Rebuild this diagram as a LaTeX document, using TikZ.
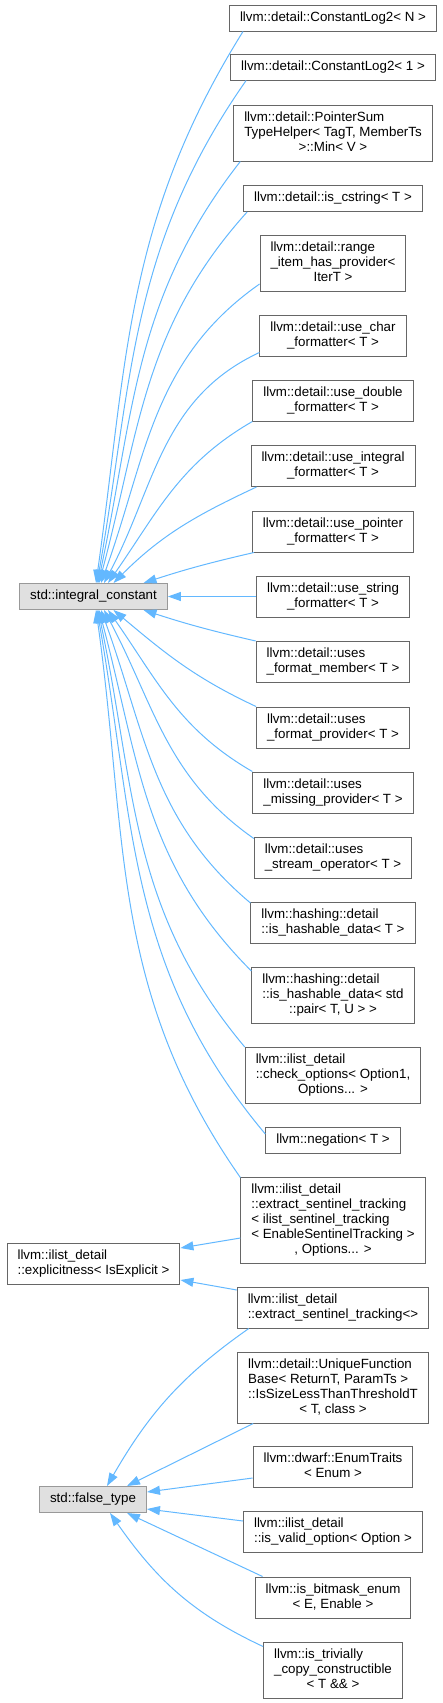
\documentclass[tikz,border=0pt]{standalone}
\usepackage{fontspec}
\setmainfont{Liberation Sans}
\usetikzlibrary{arrows.meta}
\definecolor{edgeblue}{HTML}{63B8FF}
\definecolor{clsborder}{HTML}{666666}
\definecolor{baseborder}{HTML}{999999}
\definecolor{basefill}{HTML}{E0E0E0}
\newcommand{\clsname}[1]{\begin{tabular}{@{}l@{}}#1\end{tabular}}
\newcommand{\lastln}[1]{\multicolumn{1}{@{}c@{}}{#1}}

\begin{document}
\begin{tikzpicture}[
 x=1pt,y=1pt,
 cls/.style={
  draw=clsborder,
  fill=white,
  line width=1pt,
  inner xsep=10.5pt,
  inner ysep=5.5pt,
  font=\fontsize{13.33}{15}\selectfont
 },
 base/.style={cls,draw=baseborder,fill=basefill},
 inh/.style={{Triangle[length=13pt,width=9pt]}-,draw=edgeblue,line width=1pt}
]
 \useasboundingbox (0,0) rectangle (442,-1703);

 % base classes
 \node[base] (ic)   at (93.5,-596.5) {\clsname{std::integral\_constant}};
 \node[cls]  (expl) at (93.5,-1264)  {\clsname{llvm::ilist\_detail\\::explicitness< IsExplicit >}};
 \node[base] (ft)   at (93,-1499.5)  {\clsname{std::false\_type}};

 % derived classes
 \node[cls] (cln)     at (333,-18)     {\clsname{llvm::detail::ConstantLog2< N >}};
 \node[cls] (cl1)     at (333,-67)     {\clsname{llvm::detail::ConstantLog2< 1 >}};
 \node[cls] (ps)      at (333,-133)    {\clsname{llvm::detail::PointerSum\\TypeHelper< TagT, MemberTs\\\lastln{>::Min< V >}}};
 \node[cls] (cstr)    at (333,-198.5)  {\clsname{llvm::detail::is\_cstring< T >}};
 \node[cls] (range)   at (333,-263.5)  {\clsname{llvm::detail::range\\\_item\_has\_provider<\\\lastln{IterT >}}};
 \node[cls] (uchar)   at (333,-335.5)  {\clsname{llvm::detail::use\_char\\\lastln{\_formatter< T >}}};
 \node[cls] (udouble) at (333,-400.5)  {\clsname{llvm::detail::use\_double\\\lastln{\_formatter< T >}}};
 \node[cls] (uint)    at (333,-466)    {\clsname{llvm::detail::use\_integral\\\lastln{\_formatter< T >}}};
 \node[cls] (uptr)    at (333,-531.5)  {\clsname{llvm::detail::use\_pointer\\\lastln{\_formatter< T >}}};
 \node[cls] (ustr)    at (333,-596.5)  {\clsname{llvm::detail::use\_string\\\lastln{\_formatter< T >}}};
 \node[cls] (fmem)    at (333,-662)    {\clsname{llvm::detail::uses\\\_format\_member< T >}};
 \node[cls] (fprov)   at (333,-727.5)  {\clsname{llvm::detail::uses\\\_format\_provider< T >}};
 \node[cls] (miss)    at (333,-792.5)  {\clsname{llvm::detail::uses\\\_missing\_provider< T >}};
 \node[cls] (stream)  at (333,-857.5)  {\clsname{llvm::detail::uses\\\_stream\_operator< T >}};
 \node[cls] (hasht)   at (333,-923)    {\clsname{llvm::hashing::detail\\::is\_hashable\_data< T >}};
 \node[cls] (hashp)   at (333,-995.5)  {\clsname{llvm::hashing::detail\\::is\_hashable\_data< std\\\lastln{::pair< T, U > >}}};
 \node[cls] (check)   at (333,-1075.5) {\clsname{llvm::ilist\_detail\\::check\_options< Option1,\\\lastln{Options... >}}};
 \node[cls] (neg)     at (333,-1140.5) {\clsname{llvm::negation< T >}};
 \node[cls] (extr)    at (333,-1220)   {\clsname{llvm::ilist\_detail\\::extract\_sentinel\_tracking\\< ilist\_sentinel\_tracking\\< EnableSentinelTracking >\\\lastln{, Options... >}}};
 \node[cls] (extr0)   at (333,-1307.5) {\clsname{llvm::ilist\_detail\\::extract\_sentinel\_tracking<>}};
 \node[cls] (unique)  at (333,-1387.5) {\clsname{llvm::detail::UniqueFunction\\Base< ReturnT, ParamTs >\\::IsSizeLessThanThresholdT\\\lastln{< T, class >}}};
 \node[cls] (enumt)   at (333,-1467)   {\clsname{llvm::dwarf::EnumTraits\\\lastln{< Enum >}}};
 \node[cls] (valid)   at (333,-1532)   {\clsname{llvm::ilist\_detail\\::is\_valid\_option< Option >}};
 \node[cls] (bitm)    at (333,-1597.5) {\clsname{llvm::is\_bitmask\_enum\\\lastln{< E, Enable >}}};
 \node[cls] (triv)    at (333,-1670)   {\clsname{llvm::is\_trivially\\\_copy\_constructible\\\lastln{< T \&\& >}}};

 % std::integral_constant, upper children
 \draw[inh] ([xshift=2.5pt]ic.north) to[out=82,in=238] ([xshift=14pt]cln.south west);
 \draw[inh] ([xshift=3.5pt]ic.north) to[out=80,in=235] ([xshift=16pt]cl1.south west);
 \draw[inh] ([xshift=4.5pt]ic.north) to[out=78,in=232] ([xshift=7pt]ps.south west);
 \draw[inh] ([xshift=5.5pt]ic.north) to[out=75,in=228] ([xshift=4pt]cstr.south west);
 \draw[inh] ([xshift=7.5pt]ic.north) to[out=70,in=215] ([yshift=8pt]range.south west);
 \draw[inh] ([xshift=10.5pt]ic.north) to[out=62,in=205] ([yshift=4pt]uchar.south west);
 \draw[inh] ([xshift=14.5pt]ic.north) to[out=55,in=210] (udouble.south west);
 \draw[inh] ([xshift=20pt]ic.north) to[out=45,in=205] ([xshift=6pt]uint.south west);
 \draw[inh] ([xshift=50pt]ic.north) to[out=18,in=193] ([xshift=2pt]uptr.south west);
 \draw[inh] (ic.east) -- (ustr.west);
 % std::integral_constant, lower children
 \draw[inh] ([xshift=50pt]ic.south) to[out=-18,in=167] (fmem.north west);
 \draw[inh] ([xshift=20pt]ic.south) to[out=-40,in=155] (fprov.north west);
 \draw[inh] ([xshift=14.5pt]ic.south) to[out=-55,in=150] (miss.north west);
 \draw[inh] ([xshift=10.5pt]ic.south) to[out=-62,in=145] ([yshift=-2pt]stream.north west);
 \draw[inh] ([xshift=7.5pt]ic.south) to[out=-70,in=140] ([yshift=-1pt]hasht.north west);
 \draw[inh] ([xshift=5.5pt]ic.south) to[out=-75,in=135] ([yshift=-4pt]hashp.north west);
 \draw[inh] ([xshift=4.5pt]ic.south) to[out=-78,in=130] (check.north west);
 \draw[inh] ([xshift=3.5pt]ic.south) to[out=-80,in=130] ([yshift=-7pt]neg.north west);
 \draw[inh] ([xshift=2.5pt]ic.south) to[out=-82,in=125] ([yshift=-1pt]extr.north west);

 % explicitness
 \draw[inh] ([yshift=16pt]expl.east) -- ([yshift=-18pt]extr.west);
 \draw[inh] ([yshift=-16pt]expl.east) -- ([yshift=17.5pt]extr0.west);

 % std::false_type
 \draw[inh] ([xshift=14pt]ft.north) to[out=60,in=215] ([xshift=12pt]extr0.south west);
 \draw[inh] ([xshift=34pt]ft.north) -- ([xshift=16pt]unique.south west);
 \draw[inh] ([yshift=7.5pt]ft.east) -- ([yshift=-11pt]enumt.west);
 \draw[inh] ([yshift=-9.5pt]ft.east) -- ([yshift=11pt]valid.west);
 \draw[inh] ([xshift=34pt]ft.south) -- ([xshift=8pt]bitm.north west);
 \draw[inh] ([xshift=17pt]ft.south) to[out=-55,in=155] ([yshift=-5pt]triv.north west);
\end{tikzpicture}
\end{document}
